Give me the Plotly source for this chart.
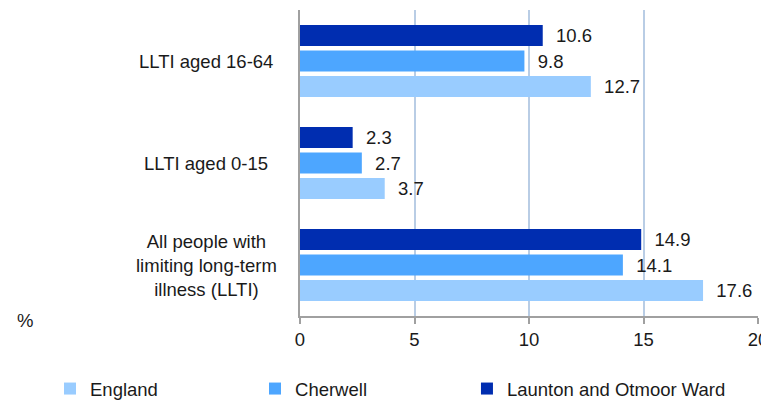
import plotly.graph_objects as go

categories = ["All people with limiting long-term illness (LLTI)", "LLTI aged 0-15", "LLTI aged 16-64"]
category_labels = ["All people with<br>limiting long-term<br>illness (LLTI)", "LLTI aged 0-15", "LLTI aged 16-64"]
series_names = ["England", "Cherwell", "Launton and Otmoor Ward"]
england = [17.6, 3.7, 12.7]
cherwell = [14.1, 2.7, 9.8]
launton = [14.9, 2.3, 10.6]
colors = ["#99CCFF", "#4DA6FF", "#002DB0"]
legend_ids = ["legend", "legend2", "legend3"]
legend_x = [0.0552, 0.3246, 0.6031]

FONT = "Liberation Sans, Arial, sans-serif"
FS = 18.5
TXT = "#1a1a1a"
fig = go.Figure()
for name, vals, col, lid in zip(series_names, [england, cherwell, launton], colors, legend_ids):
    fig.add_trace(go.Bar(
        y=categories, x=vals, name=name, orientation="h",
        marker=dict(color=col, line=dict(width=0)),
        texttemplate="\u00a0\u00a0%{x:.1f}", textposition="outside",
        textfont=dict(size=FS, color=TXT, family=FONT),
        constraintext="none", cliponaxis=False, legend=lid,
    ))

for cat, lab in zip(categories, category_labels):
    fig.add_annotation(x=-0.2052, xref="paper", y=cat, yref="y", text=lab,
                       showarrow=False, xanchor="center", yanchor="middle", align="center",
                       font=dict(size=FS, color=TXT, family=FONT))

fig.add_annotation(x=-0.6, xref="paper", y=-0.016, yref="paper", text="%",
                   showarrow=False, xanchor="center", yanchor="middle",
                   font=dict(size=FS, color=TXT, family=FONT))

legend_common = dict(orientation="h", xref="container", yref="container",
                     xanchor="left", y=0.028, yanchor="middle",
                     font=dict(size=FS, family=FONT, color=TXT), bgcolor="rgba(0,0,0,0)")

fig.update_layout(
    width=761, height=392,
    margin=dict(l=292, r=11, t=2, b=84, autoexpand=False),
    paper_bgcolor="white", plot_bgcolor="white",
    barmode="group", bargap=0.25, bargroupgap=0.17,
    font=dict(family=FONT, size=FS, color=TXT),
    xaxis=dict(range=[0, 20], dtick=5, showgrid=True, gridcolor="#B9CDE5", gridwidth=2,
               zeroline=False, showline=True, linecolor="#A0A0A0", linewidth=2,
               ticks="outside", ticklen=6, tickcolor="#A0A0A0", tickwidth=2,
               tickfont=dict(size=FS, family=FONT, color=TXT), automargin=False),
    yaxis=dict(showticklabels=False, showline=True, linecolor="#A0A0A0", linewidth=2,
               showgrid=False, zeroline=False, ticks="", automargin=False),
    legend=dict(x=legend_x[0], **legend_common),
    legend2=dict(x=legend_x[1], **legend_common),
    legend3=dict(x=legend_x[2], **legend_common),
    showlegend=True,
)

fig.write_html("out.html")
